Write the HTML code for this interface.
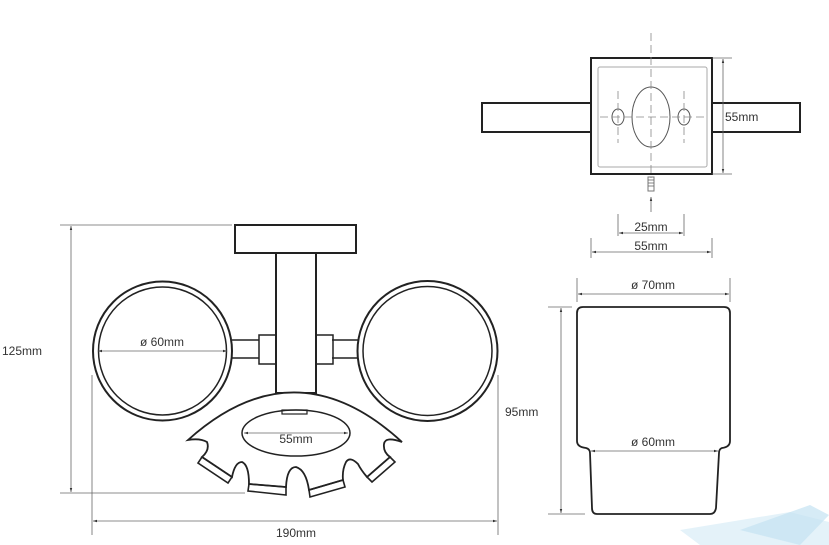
<!DOCTYPE html>
<html><head><meta charset="utf-8"><style>
html,body{margin:0;padding:0;background:#fff;}
svg{display:block;}
text{font-family:"Liberation Sans",sans-serif;font-size:12px;fill:#333;}
</style></head><body>
<svg width="829" height="545" viewBox="0 0 829 545" xmlns="http://www.w3.org/2000/svg">
<defs>
<marker id="a" viewBox="0 0 10 10" refX="10" refY="5" markerWidth="5" markerHeight="5" orient="auto-start-reverse"><path d="M0,2 L10,5 L0,8z" fill="#333"/></marker>
</defs>
<polygon points="680,530 790,512 829,522 829,545 700,545" fill="#d8ecf6" opacity="0.7"/>
<polygon points="740,530 810,505 829,515 800,545" fill="#c5e3f2" opacity="0.7"/>

<g fill="none" stroke="#222" stroke-width="2">
<rect x="235" y="225" width="121" height="28"/>
<rect x="276" y="253" width="40" height="140" fill="#fff"/>
<circle cx="162.5" cy="351" r="69.5"/>
<circle cx="162.5" cy="351" r="64" stroke-width="1.5"/>
<circle cx="427.5" cy="351" r="70"/>
<circle cx="427.5" cy="351" r="64.5" stroke-width="1.5"/>
<line x1="232" y1="340" x2="259" y2="340" stroke-width="1.5"/>
<line x1="232" y1="358" x2="259" y2="358" stroke-width="1.5"/>
<rect x="259" y="335" width="17" height="29" stroke-width="1.5"/>
<line x1="332" y1="340" x2="358" y2="340" stroke-width="1.5"/>
<line x1="332" y1="358" x2="358" y2="358" stroke-width="1.5"/>
<rect x="316" y="335" width="17" height="29" stroke-width="1.5"/>
<path d="M188,440 Q295,344 402,442 Q385,436 384,444 Q383,452 390,457 L367,477 Q361,470 358,464 Q350,456 346,462 Q342,470 343,480 L309,490 Q306,470 296,467 Q287,467 286,487 L249,484 Q249,465 242,462 Q235,462 232,477 L202,457 Q210,450 207,442 Q200,438 188,440 Z" stroke-width="1.8" fill="#fff"/>
<g stroke-width="1.6">
<polygon points="390,457 367,477 372,482 395,462"/>
<polygon points="343,480 309,490 310,497 345,487"/>
<polygon points="286,487 249,484 248,491 286,495"/>
<polygon points="232,477 202,457 198,463 228,483"/>
</g>
<ellipse cx="296" cy="433" rx="54" ry="23" stroke-width="1.5"/>
<rect x="282" y="410" width="25" height="4" stroke-width="1.2"/>

<rect x="482" y="103" width="109" height="29"/>
<rect x="712" y="103" width="88" height="29"/>
<rect x="591" y="58" width="121" height="116" fill="#fff"/>
<rect x="598" y="67" width="109" height="100" rx="2" stroke="#aaa" stroke-width="1"/>
<ellipse cx="651" cy="117" rx="19" ry="30" stroke="#555" stroke-width="1"/>
<ellipse cx="618" cy="117" rx="6" ry="8" stroke="#555" stroke-width="1"/>
<ellipse cx="684" cy="117" rx="6" ry="8" stroke="#555" stroke-width="1"/>
<rect x="648" y="177" width="6" height="14" stroke="#777" stroke-width="1"/>

<path d="M583,307 L724,307 Q730,307 730,313 L730,441 Q730,447 722,448 Q719,449 719,453 L716,508 Q715,514 710,514 L597,514 Q592,514 592,508 L590,453 Q590,449 586,448 Q577,447 577,441 L577,313 Q577,307 583,307 Z" stroke-width="1.8"/>
</g>

<g stroke="#888" stroke-width="0.8" fill="none" stroke-dasharray="8,4">
<line x1="651" y1="33" x2="651" y2="178"/>
<line x1="600" y1="117" x2="704" y2="117"/>
<line x1="618" y1="91" x2="618" y2="143"/>
<line x1="684" y1="91" x2="684" y2="143"/>
</g>

<g stroke="#666" stroke-width="0.8" fill="none">
<line x1="648" y1="180" x2="654" y2="180"/><line x1="648" y1="183" x2="654" y2="183"/><line x1="648" y1="186" x2="654" y2="186"/>
<line x1="651" y1="212" x2="651" y2="197" marker-end="url(#a)"/>
<line x1="60" y1="225" x2="232" y2="225"/>
<line x1="60" y1="493" x2="245" y2="493"/>
<line x1="71" y1="226" x2="71" y2="492" marker-start="url(#a)" marker-end="url(#a)"/>
<line x1="92" y1="375" x2="92" y2="535"/>
<line x1="498" y1="375" x2="498" y2="535"/>
<line x1="93" y1="521" x2="497" y2="521" marker-start="url(#a)" marker-end="url(#a)"/>
<line x1="98" y1="351" x2="227" y2="351" marker-start="url(#a)" marker-end="url(#a)"/>
<line x1="244" y1="433" x2="348" y2="433" marker-start="url(#a)" marker-end="url(#a)"/>
<line x1="712" y1="58" x2="732" y2="58"/>
<line x1="712" y1="174" x2="732" y2="174"/>
<line x1="723" y1="59" x2="723" y2="173" marker-start="url(#a)" marker-end="url(#a)"/>
<line x1="618" y1="214" x2="618" y2="236"/>
<line x1="684" y1="214" x2="684" y2="236"/>
<line x1="619" y1="233" x2="683" y2="233" marker-start="url(#a)" marker-end="url(#a)"/>
<line x1="591" y1="238" x2="591" y2="258"/>
<line x1="712" y1="238" x2="712" y2="258"/>
<line x1="592" y1="252" x2="711" y2="252" marker-start="url(#a)" marker-end="url(#a)"/>
<line x1="577" y1="278" x2="577" y2="302"/>
<line x1="730" y1="278" x2="730" y2="302"/>
<line x1="578" y1="294" x2="729" y2="294" marker-start="url(#a)" marker-end="url(#a)"/>
<line x1="548" y1="307" x2="572" y2="307"/>
<line x1="548" y1="514" x2="585" y2="514"/>
<line x1="561" y1="308" x2="561" y2="513" marker-start="url(#a)" marker-end="url(#a)"/>
<line x1="591" y1="451" x2="718" y2="451" marker-start="url(#a)" marker-end="url(#a)"/>
</g>

<text x="2" y="355">125mm</text>
<text x="162" y="346" text-anchor="middle">ø 60mm</text>
<text x="296" y="443" text-anchor="middle">55mm</text>
<text x="296" y="537" text-anchor="middle">190mm</text>
<text x="725" y="121">55mm</text>
<text x="651" y="231" text-anchor="middle">25mm</text>
<text x="651" y="250" text-anchor="middle">55mm</text>
<text x="653" y="289" text-anchor="middle">ø 70mm</text>
<text x="653" y="446" text-anchor="middle">ø 60mm</text>
<text x="505" y="416">95mm</text>
</svg>
</body></html>
